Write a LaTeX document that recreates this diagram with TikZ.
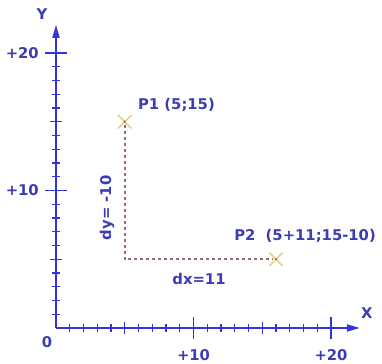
\documentclass[tikz,border=0pt]{standalone}
\usepackage{fontspec}
\setmainfont{DejaVu Sans}
\usetikzlibrary{arrows.meta,shapes.misc,positioning}
\definecolor{axisblue}{HTML}{3434DC}
\definecolor{textblue}{HTML}{3C3CB4}
\definecolor{pathbrown}{HTML}{9C6C6C}
\definecolor{crossyellow}{HTML}{E0D488}

\begin{document}
\begin{tikzpicture}[
  x=13.75pt, y=13.75pt,
  axis/.style={draw=axisblue, line width=1.8pt, -{Triangle[length=13pt,width=7pt]}},
  tick/.style={draw=axisblue, line width=1.3pt},
  lbl/.style={text=textblue, font=\fontsize{14.8}{17}\selectfont\bfseries, inner sep=0pt},
  ptmark/.style={cross out, draw=crossyellow, line width=1.5pt, minimum size=12pt, inner sep=0pt},
  delta/.style={draw=pathbrown, line width=1.8pt, dash pattern=on 3pt off 3pt}
]
  \useasboundingbox (-4.073,-2.618) rectangle (23.709,23.855);

  % axes
  \coordinate (o) at (0,0);
  \coordinate (xend) at (22.1,0);
  \coordinate (yend) at (0,22.05);
  \draw[axis] (o) -- (xend);
  \draw[axis] (o) -- (yend);

  % ticks
  \foreach \i in {1,...,20}{
    \pgfmathsetmacro{\len}{mod(\i,10)==0 ? 0.8 : (mod(\i,5)==0 ? 0.45 : 0.28)}
    \draw[tick] (\i,-\len) -- (\i,\len);
    \draw[tick] (-\len,\i) -- (\len,\i);
  }

  % axis labels
  \node[lbl] (ylab) at (-1.02,22.8) {Y};
  \node[lbl] (xlab) at (22.6,1.09) {X};
  \node[lbl] (zero) at (-0.65,-1.02) {0};
  \node[lbl, anchor=east] (y10) at (-1.24,10) {+10};
  \node[lbl, anchor=east] (y20) at (-1.24,20) {+20};
  \node[lbl] (x10) at (10,-1.96) {+10};
  \node[lbl] (x20) at (20,-1.96) {+20};

  % points
  \node[ptmark] (p1) at (5,15) {};
  \node[ptmark] (p2) at (16,5) {};
  \fill[pathbrown!70!black] (p1.center) circle (1pt);
  \fill[pathbrown!70!black] (p2.center) circle (1pt);

  \draw[delta] ([yshift=-3pt]p1.center) |- ([xshift=-3pt]p2.center);

  \node[lbl, anchor=west] (p1lab) at (5.96,16.2) {P1 (5;15)};
  \node[lbl, anchor=west] (p2lab) at (12.95,6.69) {P2\ \ (5+11;15-10)};
  \node[lbl] (dx) at (10.4,3.56) {dx=11};
  \node[lbl, rotate=90] (dy) at (3.71,8.73) {dy= -10};
\end{tikzpicture}
\end{document}
